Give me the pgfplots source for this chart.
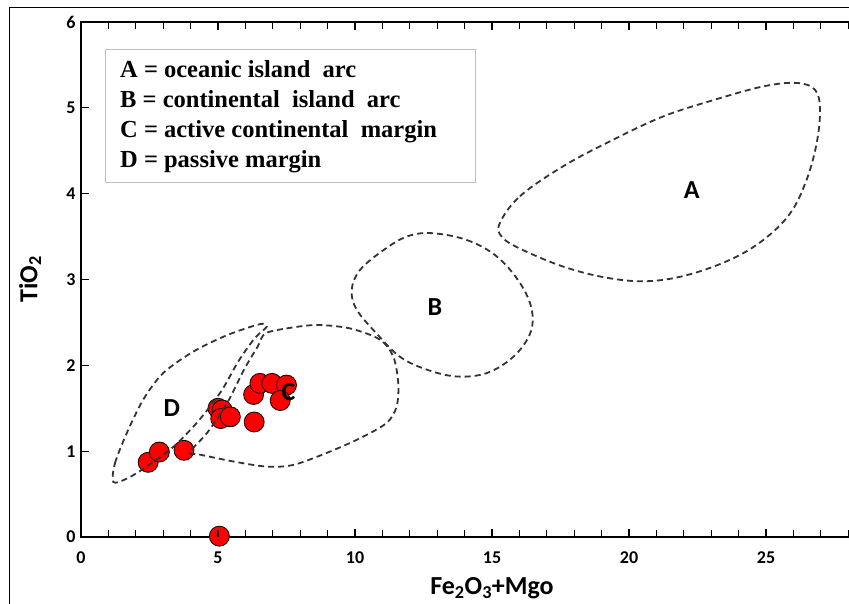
\documentclass[border=0pt]{standalone}
\usepackage{fontspec}
\setmainfont{Carlito}
\newfontfamily\legfont{Liberation Serif}
\usepackage{pgfplots}
\pgfplotsset{compat=1.18}
\definecolor{zone}{HTML}{333333}
\definecolor{boxgray}{HTML}{BFBFBF}
\pgfplotsset{zonestyle/.style={zone, line width=1.8pt, dash pattern=on 6pt off 4pt, on layer=axis foreground}}
\begin{document}
\begin{tikzpicture}
\begin{axis}[
  set layers,
  at={(81pt,66pt)}, anchor=south west,
  scale only axis, width=822pt, height=515pt,
  xmin=0, xmax=30, ymin=0, ymax=6,
  xtick={0,5,...,25}, minor x tick num=4, ytick={0,1,...,6},
  major tick length=8pt, minor tick length=7pt,
  axis line style={line width=1.2pt, black},
  tick style={line width=1.3pt, black},
  ticklabel style={font=\bfseries\fontsize{18}{20}\selectfont},
  /pgf/number format/assume math mode=true,
  xticklabel style={yshift=-11pt}, yticklabel style={xshift=-2pt},
  xlabel={Fe\textsubscript{2}O\textsubscript{3}+Mgo},
  ylabel={TiO\textsubscript{2}},
  label style={font=\bfseries\fontsize{26}{28}\selectfont},
  xlabel style={at={(axis description cs:0.5,-0.099)}, anchor=center},
  ylabel style={at={(axis description cs:-0.062,0.5)}, anchor=center},
]
% samples
\addplot[only marks, mark=*, mark size=10pt, mark options={fill=red, draw=black, line width=0.8pt}]
 coordinates {(2.45,0.87) (2.86,0.99) (3.76,1.01) (5.05,0.01) (5.0,1.50) (5.15,1.48) (5.1,1.38) (5.45,1.40) (6.32,1.34) (6.3,1.66) (6.53,1.79) (6.97,1.79) (7.5,1.77) (7.27,1.59)};
% field A
\addplot[zonestyle, smooth cycle, tension=0.6]
 coordinates {(15.29,3.66) (16.02,3.97) (17.6,4.32) (19.43,4.63) (21.25,4.90) (23.08,5.09) (24.9,5.25) (26.12,5.29) (26.79,5.21) (26.97,4.98) (26.85,4.59) (26.48,4.16) (25.88,3.77) (24.9,3.46) (23.69,3.23) (22.1,3.05) (20.65,2.98) (19.19,3.02) (17.6,3.15) (16.02,3.36) (15.35,3.5)};
% field B
\addplot[zonestyle, smooth cycle, tension=0.6]
 coordinates {(12.8,3.54) (14.08,3.46) (15.17,3.27) (16.02,2.96) (16.45,2.65) (16.39,2.37) (15.78,2.10) (14.81,1.91) (13.71,1.87) (12.62,1.95) (11.64,2.10) (10.79,2.37) (10.06,2.65) (9.88,2.88) (10.18,3.11) (11.03,3.34) (11.89,3.5)};
% field C
\addplot[zonestyle, smooth cycle, tension=0.5]
 coordinates {(6.72,2.37) (7.5,2.43) (8.6,2.47) (9.82,2.43) (10.91,2.30) (11.4,2.10) (11.58,1.79) (11.52,1.52) (11.16,1.33) (10.18,1.15) (8.97,0.98) (7.75,0.84) (6.78,0.82) (5.56,0.88) (4.34,0.96) (3.98,0.99) (4.62,1.22) (5.35,1.57) (5.95,1.95) (6.45,2.22)};
% field D
\addplot[zonestyle, smooth cycle, tension=0.5]
 coordinates {(1.18,0.64) (1.24,0.86) (1.67,1.21) (2.27,1.60) (3.0,1.91) (4.1,2.16) (5.32,2.35) (6.53,2.48) (6.78,2.45) (6.35,2.32) (5.75,2.05) (5.12,1.70) (4.28,1.35) (3.37,1.05) (2.40,0.82) (1.67,0.68)};
\begin{pgfonlayer}{axis foreground}
\pgfplotsinvokeforeach{1,...,29}{
  \draw[black, line width=1.3pt] (axis cs:#1,0) -- ++(0pt,7pt);
  \draw[black, line width=1.3pt] (axis cs:#1,6) -- ++(0pt,-7pt);
}
\pgfplotsinvokeforeach{1,...,5}{
  \draw[black, line width=1.3pt] (axis cs:0,#1) -- ++(7pt,0pt);
}
\node[font=\bfseries\fontsize{26}{28}\selectfont] at (axis cs:22.29,4.04) {A};
\node[font=\bfseries\fontsize{26}{28}\selectfont] at (axis cs:12.92,2.68) {B};
\node[font=\bfseries\fontsize{26}{28}\selectfont] at (axis cs:7.57,1.69) {C};
\node[font=\bfseries\fontsize{26}{28}\selectfont] at (axis cs:3.31,1.50) {D};
\end{pgfonlayer}
\end{axis}
\draw[line width=1pt] (9pt,-10pt) -- (9pt,595pt) -- (880pt,595pt);
\draw[boxgray, line width=1pt] (105pt,420pt) rectangle (475pt,553pt);
\node[anchor=west, align=left, inner sep=0pt, font=\legfont\bfseries\fontsize{24.5}{30}\selectfont] at (120pt,486.5pt)
 {A = oceanic island~ arc\\
  B = continental~ island~ arc\\
  C = active continental~ margin\\
  D = passive margin};
\pgfresetboundingbox
\path (0pt,0pt) rectangle (849pt,603pt);
\end{tikzpicture}
\end{document}
